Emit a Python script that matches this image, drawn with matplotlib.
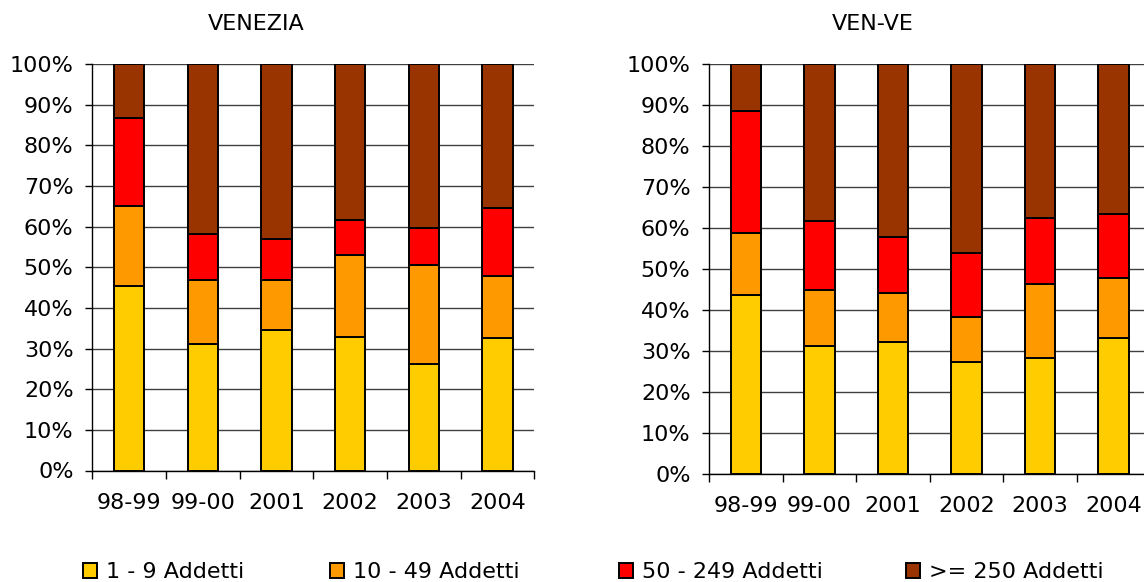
import numpy as np
import matplotlib
matplotlib.use("Agg")
import matplotlib.pyplot as plt
from matplotlib.patches import Patch
from matplotlib.ticker import FixedLocator, PercentFormatter

# shares in percent
years = ["98-99", "99-00", "2001", "2002", "2003", "2004"]
series = ["1 - 9 Addetti", "10 - 49 Addetti", "50 - 249 Addetti", ">= 250 Addetti"]
colors = ["#FFCC00", "#FF9900", "#FF0000", "#993300"]

venezia_1_9 = [45.4, 31.0, 34.5, 32.9, 26.3, 32.5]
venezia_10_49 = [19.7, 15.8, 12.3, 20.1, 24.2, 15.3]
venezia_50_249 = [21.5, 11.5, 10.1, 8.6, 9.2, 16.7]
venezia_250 = [13.4, 41.7, 43.1, 38.4, 40.3, 35.5]

venve_1_9 = [43.6, 31.2, 32.2, 27.4, 28.4, 33.1]
venve_10_49 = [15.1, 13.8, 11.9, 10.9, 18.0, 14.8]
venve_50_249 = [29.8, 16.6, 13.7, 15.7, 16.1, 15.5]
venve_250 = [11.5, 38.4, 42.2, 46.0, 37.5, 36.6]

W, H = 1144, 582
FS = 16

fig = plt.figure(figsize=(W / 100, H / 100), dpi=100)


def px_axes(x0, x1, ytop, ybot):
	return fig.add_axes([x0 / W, (H - ybot) / H, (x1 - x0) / W, (ybot - ytop) / H])


def draw_panel(ax, data, xmax):
	x = np.arange(len(years))
	bottom = np.zeros(len(years))
	for vals, col in zip(data, colors):
		vals = np.array(vals)
		ax.bar(x, vals, 0.41, bottom=bottom, color=col, edgecolor="black",
			linewidth=1.4, zorder=3)
		bottom += vals
	ax.set_xlim(-0.5, xmax)
	ax.set_ylim(0, 100)
	ax.set_axisbelow(True)
	ax.yaxis.set_major_locator(FixedLocator(np.arange(0, 101, 10)))
	ax.yaxis.set_major_formatter(PercentFormatter(decimals=0))
	ax.grid(axis="y", color="#404040", linewidth=1.0)
	# tick marks between categories, labels centred on bars
	ax.xaxis.set_major_locator(FixedLocator(np.arange(-0.5, len(years), 1.0)))
	ax.xaxis.set_minor_locator(FixedLocator(x))
	ax.set_xticklabels([], minor=False)
	ax.set_xticklabels(years, minor=True, fontsize=FS)
	ax.tick_params(axis="x", which="major", direction="out", length=5.5, width=1.0)
	ax.tick_params(axis="x", which="minor", length=0, pad=16)
	ax.tick_params(axis="y", direction="out", length=5, width=1.0, pad=8.5, labelsize=FS)
	for s in ["top", "right"]:
		ax.spines[s].set_visible(False)
	for s in ["left", "bottom"]:
		ax.spines[s].set_linewidth(1.0)
		ax.spines[s].set_color("black")


ax1 = px_axes(92.3, 534.3, 64, 470.5)
draw_panel(ax1, [venezia_1_9, venezia_10_49, venezia_50_249, venezia_250], 5.5)

ax2 = px_axes(709.3, W, 64, 474)
draw_panel(ax2, [venve_1_9, venve_10_49, venve_50_249, venve_250],
	-0.5 + (W - 709.3) / 73.5)

fig.text(256 / W, 1 - 24 / H, "VENEZIA", ha="center", va="center", fontsize=FS)
fig.text(873 / W, 1 - 24 / H, "VEN-VE", ha="center", va="center", fontsize=FS)

# legend items spread along the bottom
leg_x = [82.7, 330, 619, 905.7]
for name, col, lx in zip(series, colors, leg_x):
	h = Patch(facecolor=col, edgecolor="black", linewidth=1.4)
	fig.legend(handles=[h], labels=[name], loc="center left",
		bbox_to_anchor=(lx / W, 1 - 572 / H), frameon=False, fontsize=FS,
		handlelength=0.65, handleheight=0.65, handletextpad=0.4,
		borderpad=0, borderaxespad=0)

fig.savefig("out.png", dpi=100)
